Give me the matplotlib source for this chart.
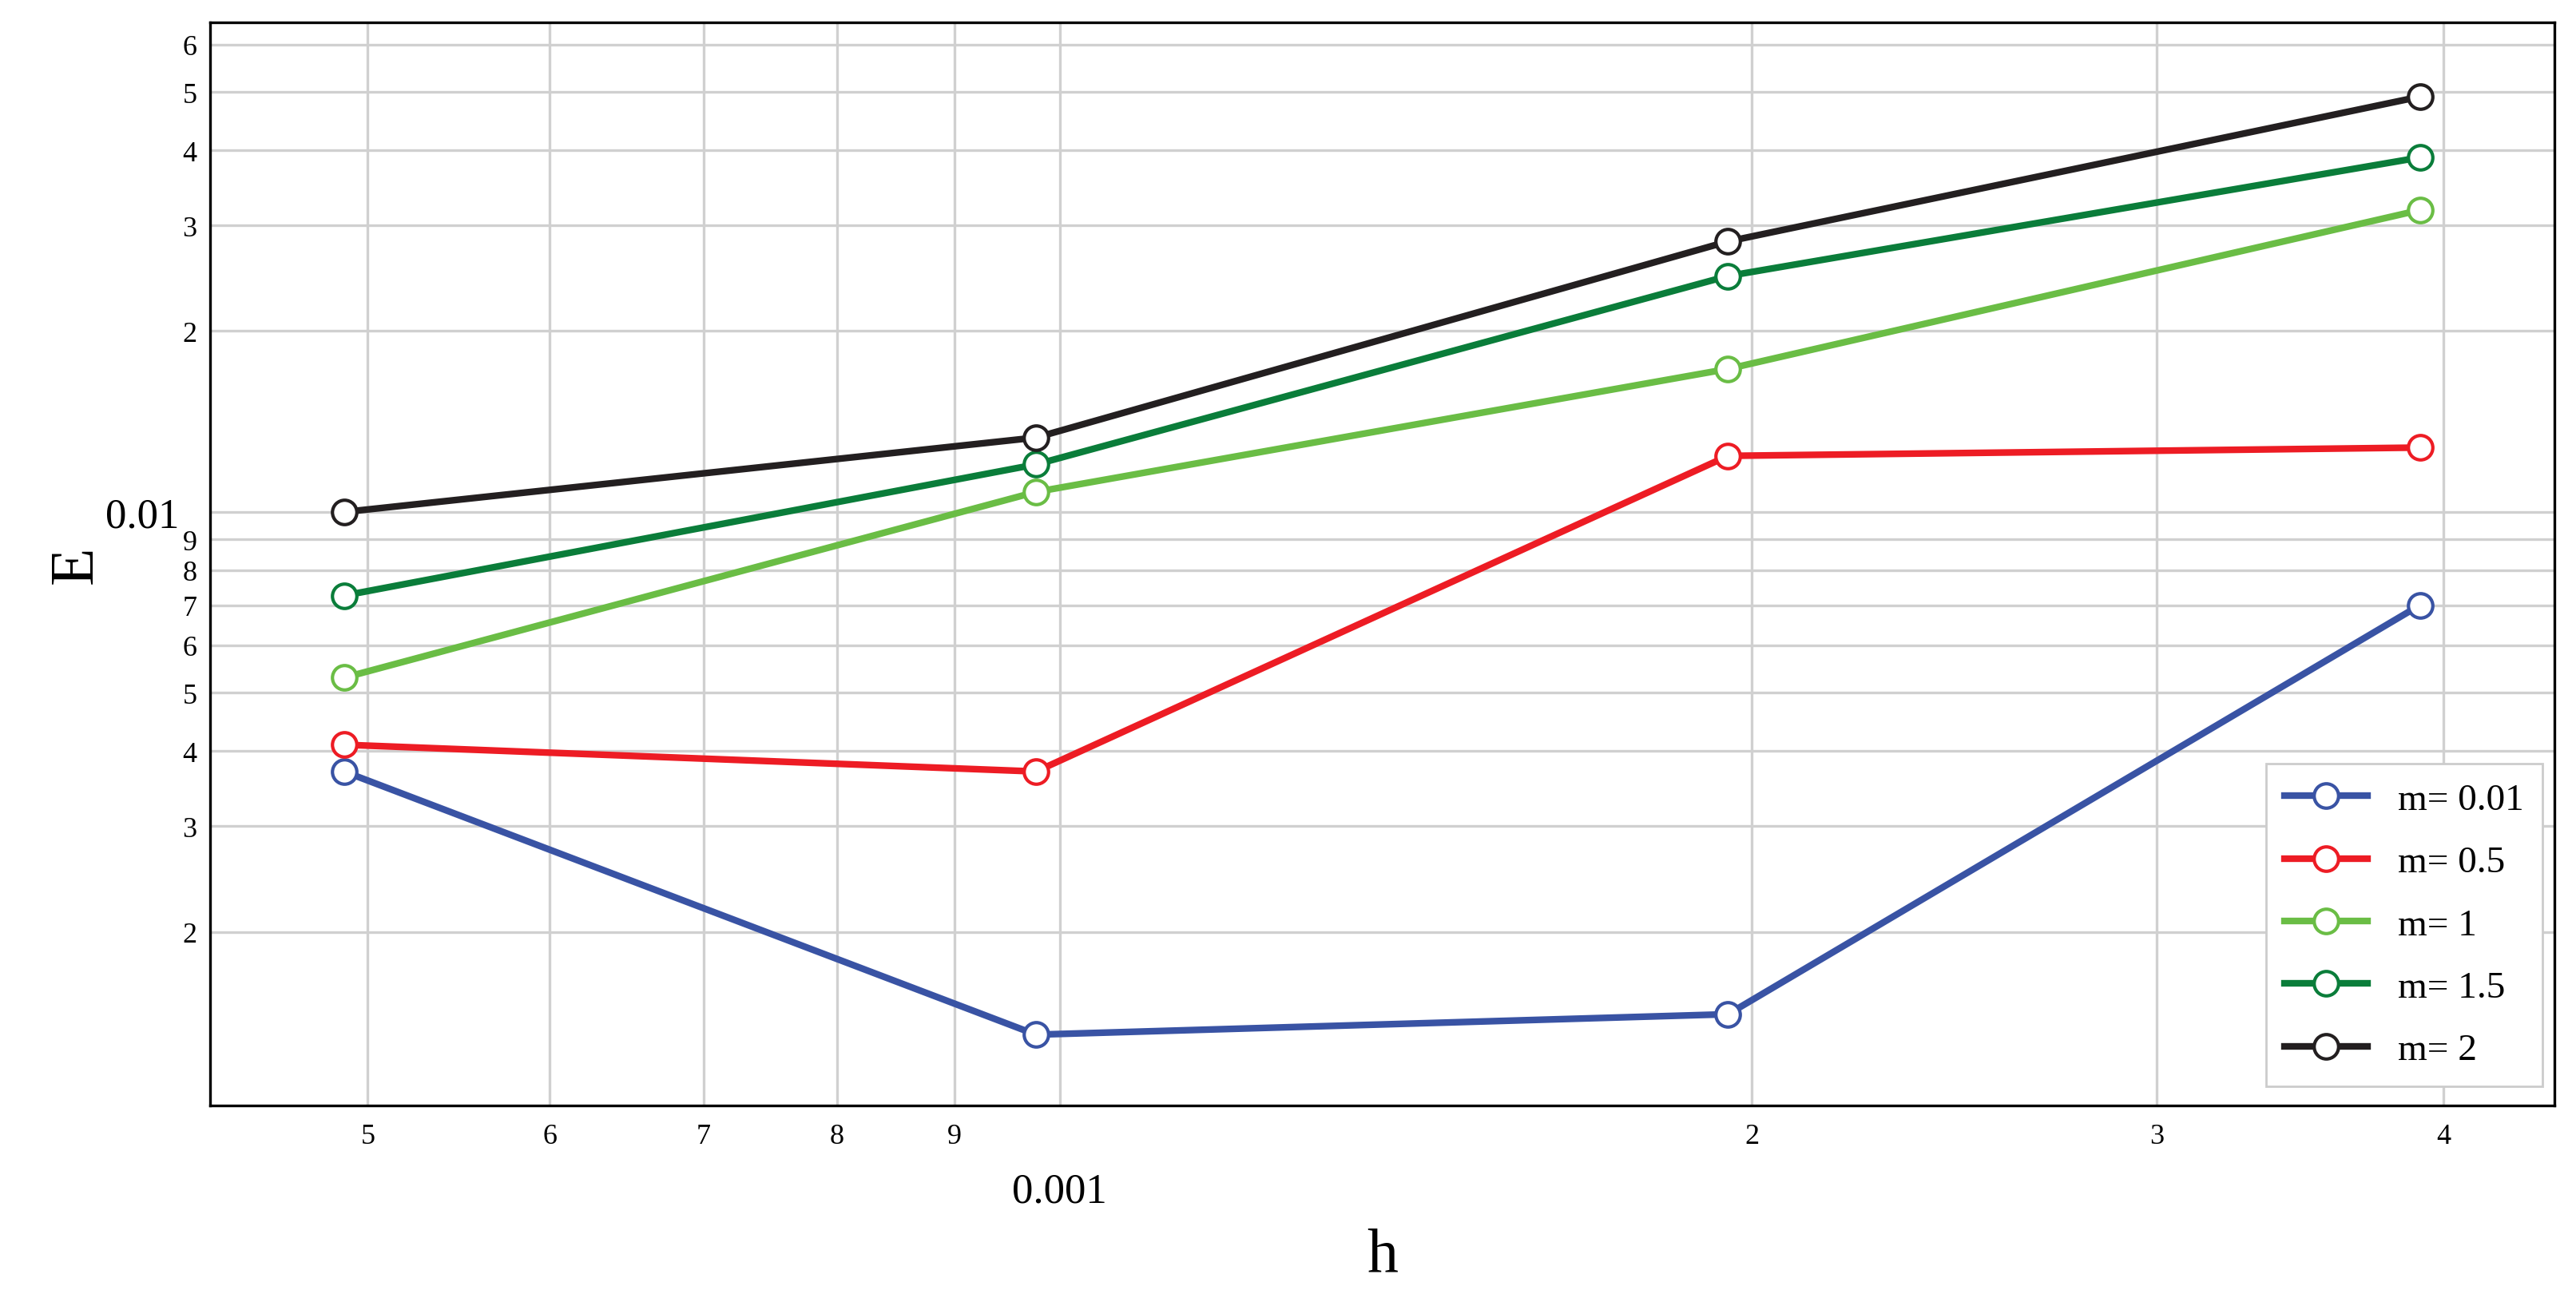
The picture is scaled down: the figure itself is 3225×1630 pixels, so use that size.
import matplotlib
matplotlib.use("Agg")
import matplotlib.pyplot as plt
from matplotlib.ticker import FixedLocator, FixedFormatter

plt.rcParams['font.family'] = ['Liberation Serif', 'DejaVu Serif']

h = [4.8828e-4, 9.7656e-4, 1.9531e-3, 3.9063e-3]
labels = ["m= 0.01", "m= 0.5", "m= 1", "m= 1.5", "m= 2"]
E_001 = [0.0037, 0.00135, 0.00146, 0.0070]
E_05 = [0.0041, 0.0037, 0.0124, 0.0128]
E_1 = [0.0053, 0.0108, 0.0173, 0.0318]
E_15 = [0.00726, 0.0120, 0.0247, 0.0389]
E_2 = [0.0100, 0.0133, 0.0282, 0.0491]
series = [E_001, E_05, E_1, E_15, E_2]
colors = ['#3953a4', '#ed1c24', '#6abd45', '#0a7d3a', '#231f20']

x_minor = [5e-4, 6e-4, 7e-4, 8e-4, 9e-4, 2e-3, 3e-3, 4e-3]
x_minor_lbl = ['5', '6', '7', '8', '9', '2', '3', '4']
y_minor = [0.002, 0.003, 0.004, 0.005, 0.006, 0.007, 0.008, 0.009, 0.02, 0.03, 0.04, 0.05, 0.06]
y_minor_lbl = ['2', '3', '4', '5', '6', '7', '8', '9', '2', '3', '4', '5', '6']

fig = plt.figure(figsize=(16.125, 8.155), dpi=200)
ax = fig.add_axes([0.0816, 0.151, 0.9101, 0.831])
for s, c, l in zip(series, colors, labels):
    ax.plot(h, s, color=c, lw=3.0, marker='o', ms=11, mfc='white', mec=c, mew=1.5, label=l)
ax.set_xscale('log'); ax.set_yscale('log')
ax.set_xlim(4.27e-4, 4.47e-3)
ax.set_ylim(0.00103, 0.0652)

ax.xaxis.set_major_locator(FixedLocator([1e-3]))
ax.xaxis.set_major_formatter(FixedFormatter(['0.001']))
ax.xaxis.set_minor_locator(FixedLocator(x_minor))
ax.xaxis.set_minor_formatter(FixedFormatter(x_minor_lbl))
ax.yaxis.set_major_locator(FixedLocator([0.01]))
ax.yaxis.set_major_formatter(FixedFormatter(['0.01']))
ax.yaxis.set_minor_locator(FixedLocator(y_minor))
ax.yaxis.set_minor_formatter(FixedFormatter(y_minor_lbl))

ax.tick_params(axis='both', which='both', length=0)
ax.tick_params(axis='both', which='minor', labelsize=13)
ax.tick_params(axis='x', which='minor', pad=8)
ax.tick_params(axis='y', which='minor', pad=6)
ax.tick_params(axis='x', which='major', labelsize=19, pad=30)
ax.tick_params(axis='y', which='major', labelsize=19, pad=14)
ax.grid(True, which='both', color='#d0d0d0', lw=1.2)
ax.set_axisbelow(True)
for sp in ax.spines.values():
    sp.set_linewidth(1.2)

ax.set_xlabel('h', fontsize=28, labelpad=8)
ax.set_ylabel('E', fontsize=28, labelpad=0)

leg = ax.legend(loc='lower right', bbox_to_anchor=(1.003, 0.0), fontsize=17,
                frameon=True, fancybox=False, edgecolor='#cccccc', framealpha=1,
                handlelength=2.2, labelspacing=0.75, borderpad=0.5)
fig.savefig('out.png', dpi=200)
